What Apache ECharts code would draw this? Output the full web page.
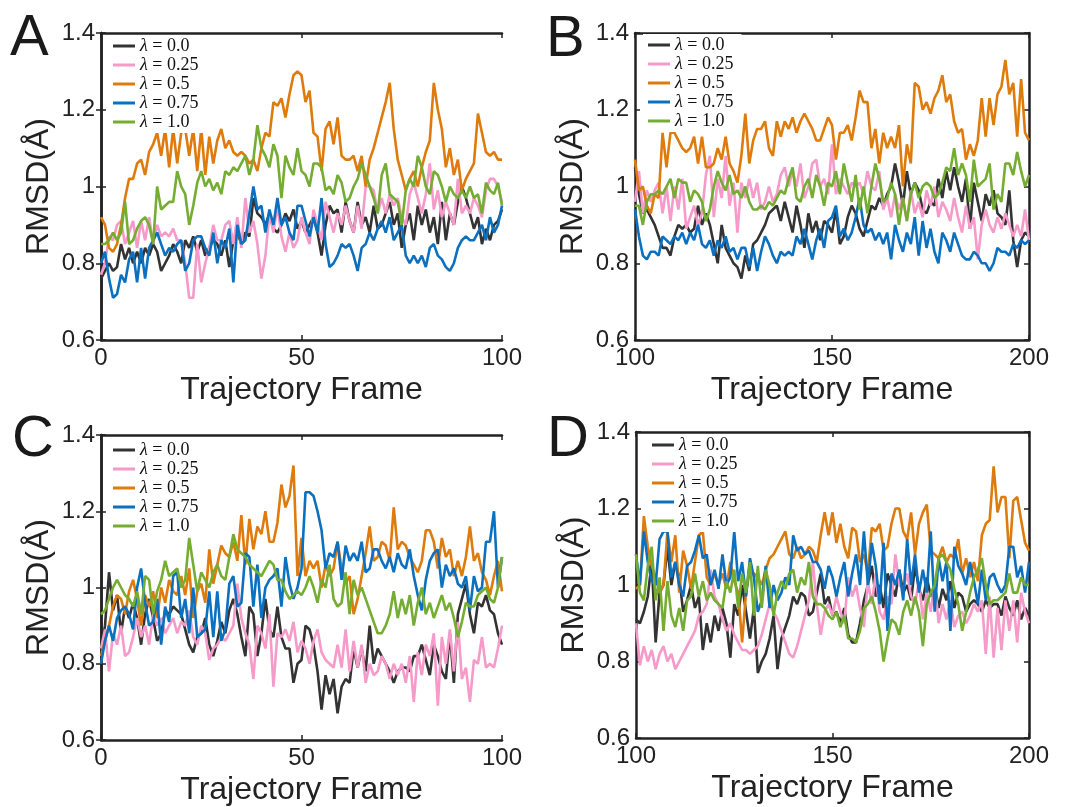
<!DOCTYPE html>
<html>
<head>
<meta charset="utf-8">
<script src="https://cdn.jsdelivr.net/npm/echarts@6/dist/echarts.min.js"></script>
<style>
  html, body { margin: 0; padding: 0; background: #fff; }
  #chart { width: 1071px; height: 807px; }
</style>
</head>
<body>
<div id="chart"></div>
<script>
var names = ['λ = 0.0', 'λ = 0.25', 'λ = 0.5', 'λ = 0.75', 'λ = 1.0'];
var colors = ['#333333', '#f59ac9', '#de7b0c', '#0b70bf', '#74ad31'];
var yTicks = [0.6, 0.8, 1.0, 1.2, 1.4];

// panel A, frames 0-100
var aBlack = [
    .76,.78,.80,.78,.79,.85,.81,.84,.80,.83,
    .80,.84,.82,.85,.83,.78,.80,.82,.85,.83,
    .80,.86,.84,.87,.83,.86,.82,.84,.86,.85,
    .82,.86,.79,.86,.88,.85,.88,.87,.97,.93,
    .92,.90,.93,.89,.88,.90,.93,.91,.94,.89,
    .91,.88,.90,.92,.88,.82,.90,.95,.93,.94,
    .88,.96,.91,.88,.96,.90,.92,.88,.95,.89,
    .90,.93,.96,.90,.93,.84,.90,.93,.86,.95,
    .90,.94,.88,.92,.85,.96,.86,.93,.90,.96,
    1.00,.97,.93,.89,.92,.85,.89,.86,.90,.91,.94
];
var aPink = [
    .77,.80,.87,.86,.90,.91,.85,.88,.91,.84,
    .91,.86,.92,.85,.90,.87,.88,.87,.89,.86,
    .86,.80,.71,.71,.85,.75,.80,.84,.90,.86,
    .86,.90,.91,.85,.92,.84,.97,.88,.91,.85,
    .76,.82,.93,.88,.95,.87,.83,.88,.84,.86,
    .92,.88,.85,.94,.90,.86,.96,.92,.88,.93,
    .90,.95,.91,.88,.95,.89,1.00,1.00,.99,.93,
    .97,.93,.98,.95,.97,.92,.90,.98,1.01,.97,
    .93,.98,1.06,.94,.99,.92,.96,.93,.90,1.02,
    .93,.95,.93,.97,.95,.92,.99,1.02,1.02,1.00,.96
];
var aOrange = [
    .92,.90,.84,.83,.85,.90,.97,1.02,1.02,1.06,
    1.07,1.03,1.09,1.11,1.14,1.08,1.15,1.05,1.15,1.06,
    1.14,1.15,1.08,1.15,1.04,1.15,1.03,1.13,1.06,1.12,
    1.15,1.10,1.12,1.09,1.08,1.09,1.08,1.06,1.07,1.04,
    1.10,1.14,1.13,1.22,1.21,1.23,1.18,1.24,1.29,1.30,
    1.29,1.22,1.25,1.14,1.13,1.04,1.15,1.17,1.11,1.18,
    1.08,1.07,1.07,1.08,1.04,1.08,1.00,1.07,1.10,1.14,
    1.18,1.22,1.27,1.15,1.07,1.03,.99,1.02,1.04,1.00,
    1.05,1.09,1.12,1.27,1.20,1.15,1.05,1.10,1.03,1.07,
    .99,1.02,1.04,1.06,1.19,1.14,1.09,1.08,1.09,1.07,1.07
];
var aBlue = [
    .80,.83,.76,.71,.72,.77,.75,.81,.83,.75,
    .84,.76,.84,.86,.88,.85,.82,.84,.83,.85,
    .86,.78,.80,.86,.87,.87,.84,.82,.88,.80,
    .86,.84,.89,.75,.90,.85,.86,.93,1.00,.94,
    .95,.88,.94,.90,.97,.90,.92,.88,.86,.95,
    .95,.91,.87,.92,.88,.97,.85,.79,.80,.82,
    .85,.84,.85,.82,.78,.84,.85,.88,.86,.89,
    .91,.88,.92,.86,.88,.90,.82,.80,.82,.80,
    .82,.79,.84,.85,.82,.81,.79,.78,.80,.84,
    .86,.87,.86,.86,.88,.90,.86,.92,.88,.90,.95
];
var aGreen = [
    .85,.85,.86,.88,.86,.88,.96,.85,.86,.89,
    .91,.92,.90,.85,1.00,.94,.95,.96,.96,1.04,
    1.00,.98,.90,.95,1.01,1.04,1.00,1.02,.99,1.01,
    .98,1.04,1.03,1.05,1.04,1.06,1.08,1.03,1.07,1.16,
    1.10,1.08,1.05,1.11,1.08,.97,1.08,1.05,1.03,1.10,
    1.04,1.03,1.00,1.06,1.06,1.05,.99,1.00,.98,1.03,
    1.01,.96,.97,1.00,1.02,1.06,1.03,1.00,.97,.93,
    1.03,1.06,.98,.97,.96,.90,.99,1.02,1.00,1.08,
    1.05,1.00,.98,1.04,1.03,1.00,.96,1.00,.98,.97,
    .99,.97,1.00,.97,.98,.93,1.01,.99,.98,1.01,.95
];

// panel B, frames 100-200
var bBlack = [
    1.05,.98,.93,.94,.92,.90,.87,.84,.84,.82,
    .87,.90,.89,.90,.88,.89,.95,.90,.93,.90,
    .85,.80,.90,.84,.82,.80,.79,.76,.82,.78,
    .85,.86,.88,.90,.93,.94,.95,.91,.96,.92,
    .88,.95,.90,.84,.93,.88,.91,.86,.91,.90,
    .88,.94,.85,.87,.92,.95,.93,.89,.87,.91,
    .95,.94,.97,.95,.98,1.00,1.06,1.01,.95,1.04,
    .98,1.01,.99,.94,.93,.96,.95,1.02,.97,1.04,
    .99,1.05,1.00,.96,1.02,.89,1.01,.96,.91,.98,
    .95,.99,.93,.92,.90,.99,.86,.79,.86,.88,.87
];
var bPink = [
    .96,1.04,.93,.99,.96,.99,1.01,.93,1.00,.91,
    1.00,.94,1.02,.89,.92,.95,.90,.93,1.03,1.08,
    .92,1.02,.97,1.08,.95,1.01,.88,1.01,.97,1.02,
    .97,1.01,.94,.96,1.00,.96,.98,1.03,1.05,1.00,
    1.04,1.00,1.06,.97,1.00,1.06,1.07,1.00,1.02,.98,
    1.11,.98,1.02,1.00,.98,1.01,1.00,1.01,.98,1.04,
    1.00,.99,1.04,.94,.97,.92,.98,.94,.97,.91,
    .99,.93,.96,.92,.99,.95,1.00,.92,.96,.94,
    .91,.97,.92,.88,.95,.89,.92,.81,.90,.94,
    .90,.88,.92,.89,.93,.90,.87,.90,.87,.94,.86
];
var bOrange = [
    1.07,.99,1.00,.95,.93,.98,.97,1.14,1.05,1.14,
    1.14,1.12,1.10,1.09,1.10,1.13,1.06,1.13,1.05,1.05,
    1.06,1.10,1.07,1.13,1.06,1.04,1.01,1.08,1.19,1.06,
    1.12,1.15,1.15,1.17,1.10,1.08,1.17,1.13,1.17,1.15,
    1.18,1.14,1.17,1.19,1.17,1.15,1.12,1.12,1.15,1.18,
    1.16,1.07,1.14,1.14,1.16,1.12,1.18,1.25,1.22,1.22,
    1.10,1.15,1.06,1.14,1.10,1.13,1.10,1.16,1.00,1.11,
    1.06,1.27,1.26,1.20,1.22,1.19,1.23,1.25,1.29,1.22,
    1.24,1.17,1.14,1.15,1.07,1.11,1.08,1.12,1.23,1.13,
    1.23,1.16,1.24,1.26,1.33,1.24,1.27,1.13,1.28,1.14,1.12
];
var bBlue = [
    .94,.87,.82,.81,.83,.83,.82,.87,.86,.85,
    .87,.86,.88,.85,.88,.86,.90,.85,.84,.86,
    .82,.86,.84,.87,.83,.84,.81,.84,.84,.79,
    .84,.78,.83,.87,.85,.82,.80,.83,.82,.83,
    .82,.87,.85,.89,.85,.81,.86,.89,.84,.91,
    .92,.95,.87,.89,.86,.88,.92,.97,.90,.88,
    .89,.86,.88,.85,.88,.81,.90,.86,.83,.88,
    .85,.92,.82,.91,.84,.89,.83,.80,.88,.86,
    .83,.88,.85,.82,.81,.81,.83,.82,.80,.80,
    .78,.80,.84,.83,.83,.82,.85,.84,.86,.85,.86
];
var bGreen = [
    .95,.95,.90,.96,.98,.98,.99,.98,1.00,1.02,
    .97,1.02,1.01,1.01,.96,.99,.98,.96,.91,.94,
    1.00,1.04,1.01,.99,1.03,.98,.99,.97,1.00,.96,
    .94,.94,.95,.94,.96,.95,.97,.99,.98,1.02,
    1.05,.97,.96,1.00,1.02,.97,1.03,1.00,.95,1.01,
    1.00,1.04,.98,1.06,1.01,.96,1.03,.94,1.00,.93,
    1.00,1.06,1.02,.96,.97,1.01,.98,.90,.97,.91,
    .98,1.01,.97,1.00,1.01,1.00,.97,.98,1.01,1.05,
    1.04,1.10,1.03,1.06,1.03,.96,1.07,1.00,1.01,1.02,
    1.06,.94,.98,.96,1.06,1.06,1.03,1.09,1.04,1.00,1.03
];

// panel C, frames 0-100
var cBlack = [
    .84,.90,1.04,.94,.98,.88,.95,.92,.96,.92,
    .85,.93,.97,.92,.86,.88,.94,.93,.95,.94,
    .93,.89,.85,.83,.87,.88,.92,.85,.82,.86,
    .91,.88,.94,.97,.93,.87,.82,.95,.93,.82,
    .88,.97,.89,.87,.95,.87,.84,.84,.75,.80,
    .81,.90,.89,.85,.78,.68,.77,.72,.76,.67,
    .74,.76,.75,.84,.79,.84,.78,.90,.80,.84,
    .82,.80,.78,.75,.78,.79,.79,.78,.82,.82,
    .85,.81,.77,.85,.82,.78,.76,.88,.75,.93,
    .97,1.01,.93,.88,.96,.95,.98,.94,.93,.88,.85
];
var cPink = [
    .84,.89,.78,.88,.85,.90,.82,.83,.87,.92,
    .87,.90,.85,.93,.90,.92,.88,.90,.92,.88,
    .91,.90,.94,.87,.85,.90,.88,.81,.84,.85,
    .87,.86,.88,.90,1.01,.92,.88,.85,.76,.90,
    .88,.84,.93,.74,.88,.87,.89,.86,.91,.83,
    .86,.84,.80,.86,.89,.83,.81,.80,.79,.85,
    .79,.89,.78,.86,.79,.85,.75,.80,.77,.78,
    .82,.80,.76,.80,.77,.80,.75,.82,.70,.83,
    .77,.85,.82,.88,.69,.87,.80,.89,.78,.91,
    .76,.79,.70,.81,.80,.87,.79,.80,.79,.84,.90
];
var cOrange = [
    .82,.86,.90,.95,.98,.97,.93,.99,1.02,.97,
    .90,.98,.95,.99,.92,1.00,.96,1.02,.99,.98,
    1.03,.98,1.05,.92,.99,1.01,.96,1.10,1.01,1.06,
    1.11,1.09,1.08,1.12,1.07,1.19,1.06,1.18,1.10,1.16,
    1.14,1.20,1.12,1.12,1.17,1.27,1.21,1.24,1.32,1.03,
    1.13,1.03,1.07,1.05,1.07,1.00,1.06,1.03,1.05,1.12,
    1.05,1.01,1.03,.93,.97,1.03,1.09,1.16,1.07,1.08,
    1.12,1.11,1.07,1.21,1.10,1.12,1.11,1.08,1.06,1.04,
    1.07,1.15,1.15,1.12,1.05,1.13,1.08,1.10,1.03,1.07,
    1.03,1.08,1.16,1.07,1.09,1.04,1.02,.98,1.03,1.07,.99
];
var cBlue = [
    .80,.86,.90,.86,.92,.94,.95,.93,.89,1.00,
    1.05,.96,.90,.91,.97,.85,.95,.91,1.03,1.04,
    .92,.97,.88,1.00,.87,.88,.89,.99,.87,.99,
    .86,.89,1.01,1.03,.95,.96,1.09,1.08,.95,1.06,
    .92,1.00,1.02,1.03,1.05,.95,1.08,1.01,.97,1.00,
    1.05,1.25,1.25,1.24,1.20,1.15,1.05,1.09,1.08,1.12,
    1.02,1.11,1.07,1.09,1.07,1.12,1.04,1.05,1.10,1.10,
    1.07,1.05,1.08,1.04,1.09,1.06,1.05,1.10,1.03,.98,
    .94,1.02,1.07,1.09,1.10,1.00,1.06,1.03,1.05,1.01,
    1.00,1.03,.94,1.03,.99,1.00,1.12,1.12,1.20,1.00,1.08
];
var cGreen = [
    .93,.94,.97,1.00,1.02,1.00,.98,.97,.95,.99,
    .93,1.03,1.02,.93,.99,1.02,1.07,1.03,1.04,1.05,
    1.00,1.02,1.13,1.06,.99,1.04,1.02,1.00,1.04,1.06,
    1.03,1.02,1.08,1.14,1.10,1.09,1.08,1.06,1.05,1.04,
    1.03,1.05,1.07,1.06,1.02,1.02,.99,.97,.98,.99,
    .98,1.00,1.03,1.00,.96,1.02,1.00,1.06,.97,.95,
    .96,1.04,.93,1.02,.98,1.00,.97,.94,.91,.88,
    .88,.90,.93,.99,.92,.97,.93,.98,.90,.96,
    1.00,.93,.96,.92,.95,.98,.94,.96,.92,.87,
    .91,.96,.95,.95,.98,.99,1.00,.97,.96,1.00,1.08
];

// panel D, frames 100-200
var dBlack = [
    .91,.90,.93,.97,1.06,.85,.98,1.00,1.10,1.00,
    1.06,1.02,.93,.96,1.00,.94,.97,.83,.90,.85,
    .92,.88,.94,.90,.81,.95,.92,1.00,.93,.86,
    .94,.77,.80,.82,.86,.92,.78,.86,.89,.92,
    .97,.95,.98,.97,.92,.93,.98,1.03,.95,.97,
    .92,.93,.90,.94,.87,.85,.85,.90,.96,1.00,
    1.05,.97,1.00,.94,1.03,1.00,.97,1.04,.98,1.00,
    .96,1.05,.99,.96,1.02,.97,1.00,.94,.99,.96,
    1.01,.94,.98,.97,.93,.95,.96,.95,.93,.96,
    .94,.95,.95,.92,.97,.94,.92,.96,.91,.94,.92
];
var dPink = [
    .90,.79,.84,.80,.83,.78,.82,.84,.80,.82,
    .78,.80,.82,.84,.86,.88,.92,.93,.95,1.04,
    .97,.95,.91,.88,.90,.87,.85,.83,.83,.82,
    .83,.84,.87,.91,.95,.93,.91,.88,.85,.82,
    .81,.84,.88,.92,.96,1.06,.95,.87,.93,.95,
    .92,.97,.93,.90,1.02,.97,1.00,.94,.89,1.01,
    .95,1.03,.93,.91,.97,.95,1.08,1.00,.99,1.03,
    .97,.95,1.01,.91,.98,.93,1.01,.90,.95,.91,
    .96,.89,.92,.93,.90,.92,.95,.93,.96,.82,
    .97,.81,.94,.83,.96,.88,.96,.85,.98,.93,.90
];
var dOrange = [
    .99,1.00,1.18,1.10,1.05,1.02,.98,1.00,1.14,1.06,
    1.13,.98,1.09,1.05,.99,1.06,1.13,1.14,1.02,1.00,
    1.03,1.00,1.03,.99,1.06,1.01,.98,.85,.98,1.04,
    1.03,1.02,1.00,1.04,1.07,1.08,1.10,1.12,1.14,1.08,
    1.07,1.10,1.07,1.08,1.10,1.09,1.06,1.13,1.19,1.13,
    1.19,1.11,1.16,1.10,1.07,1.15,1.14,1.06,1.08,1.03,
    1.15,1.14,1.16,1.09,1.10,1.16,1.20,1.20,1.14,1.12,
    1.19,1.08,1.16,1.19,1.21,1.09,1.08,1.07,1.10,1.06,
    1.08,1.07,1.12,1.03,1.07,1.02,1.06,1.01,1.13,1.16,
    1.17,1.31,1.19,1.23,1.23,1.07,1.22,1.23,1.17,1.11,1.09
];
var dBlue = [
    1.08,1.00,1.14,1.06,1.01,1.00,1.12,1.14,1.14,1.02,
    1.06,1.00,.97,1.05,1.06,1.09,1.13,1.07,1.08,1.00,
    1.04,.99,1.08,1.00,1.02,1.14,1.01,1.06,.97,1.07,
    1.02,.93,.96,1.05,.94,1.00,.96,.98,1.02,1.00,
    1.13,1.09,1.10,1.08,1.09,1.06,1.06,1.04,.99,1.05,
    1.02,.97,1.02,1.06,.97,1.03,1.08,1.00,1.14,1.00,
    1.11,1.05,.95,1.11,.88,1.03,1.00,1.04,.96,1.12,
    1.00,1.08,.98,1.04,.98,1.14,.93,1.07,1.01,1.06,
    .88,1.10,1.05,1.03,1.00,1.06,1.01,.95,1.04,.96,
    1.02,1.03,1.00,.98,1.00,1.10,1.10,1.02,1.05,.98,1.06
];
var dGreen = [
    1.08,.98,.96,1.05,1.10,.96,1.02,.88,1.01,.92,
    .89,.94,.88,.96,.97,1.03,.97,1.01,.96,.98,
    .96,.95,.94,1.01,.98,1.04,.94,1.03,.98,1.06,
    .92,1.05,.94,1.04,1.00,.92,.98,1.01,.99,1.03,
    1.04,.98,1.02,1.00,1.06,.97,.95,.95,.94,.92,
    .91,.93,.89,.92,.86,.86,.85,.88,.94,.95,
    .97,.93,.88,.80,.86,.91,.90,.87,.93,.96,
    .92,.97,.93,.84,.95,.98,1.00,1.07,1.08,1.06,
    1.04,.99,.95,.88,.93,.98,1.02,1.04,1.07,1.00,
    .95,.96,.96,.97,.98,1.03,.98,.98,1.02,1.00,1.00
];

var panels = [
    {letter: 'A', start: 0,   grid: {left: 101, top: 33,  width: 401, height: 307}, legend: {left: 108, top: 35},  series: [aBlack, aPink, aOrange, aBlue, aGreen]},
    {letter: 'B', start: 100, grid: {left: 635, top: 33,  width: 394, height: 307}, legend: {left: 643, top: 34},  series: [bBlack, bPink, bOrange, bBlue, bGreen]},
    {letter: 'C', start: 0,   grid: {left: 101, top: 435, width: 401, height: 307}, legend: {left: 108, top: 439}, series: [cBlack, cPink, cOrange, cBlue, cGreen]},
    {letter: 'D', start: 100, grid: {left: 636, top: 432, width: 393, height: 306}, legend: {left: 647, top: 434}, series: [dBlack, dPink, dOrange, dBlue, dGreen]}
];
var letterPos = [[10, 39], [546, 40], [12, 440], [547, 440]];

function toPairs(start, vals) {
    return vals.map(function (v, i) { return [start + i, v]; });
}

var font = 'Liberation Sans, Arial, Helvetica, sans-serif';
var axisLine = {show: true, lineStyle: {color: '#222', width: 2.5}};
var axisTick = {show: true, inside: true, length: 5, lineStyle: {color: '#222', width: 1.5}};

var option = {
    animation: false,
    backgroundColor: '#fff',
    grid: [], xAxis: [], yAxis: [], legend: [], series: [], graphic: []
};

panels.forEach(function (p, k) {
    option.grid.push(p.grid);
    var xmin = p.start, xmax = p.start + 100;
    // bottom axis with labels, top axis just for the box + ticks
    option.xAxis.push({
        gridIndex: k, type: 'value', min: xmin, max: xmax, interval: 50,
        axisLine: axisLine, axisTick: axisTick, splitLine: {show: false},
        axisLabel: {margin: 6, fontSize: 24, color: '#222', fontFamily: font},
        name: 'Trajectory Frame', nameLocation: 'middle', nameGap: 34,
        nameTextStyle: {fontSize: 32, color: '#222', fontFamily: font}
    });
    option.xAxis.push({
        gridIndex: k, type: 'value', min: xmin, max: xmax, interval: 50, position: 'top',
        axisLine: axisLine, axisTick: axisTick, splitLine: {show: false}, axisLabel: {show: false}
    });
    option.yAxis.push({
        gridIndex: k, type: 'value', min: yTicks[0], max: yTicks[yTicks.length - 1], interval: 0.2,
        axisLine: axisLine, axisTick: axisTick, splitLine: {show: false},
        axisLabel: {margin: 6, fontSize: 24, color: '#222', fontFamily: font},
        name: 'RMSD(Å)', nameLocation: 'middle', nameGap: 46, nameRotate: 90,
        nameTextStyle: {fontSize: 32, color: '#222', fontFamily: font}
    });
    option.yAxis.push({
        gridIndex: k, type: 'value', min: yTicks[0], max: yTicks[yTicks.length - 1], interval: 0.2, position: 'right',
        axisLine: axisLine, axisTick: axisTick, splitLine: {show: false}, axisLabel: {show: false}
    });

    option.legend.push({
        data: names, orient: 'vertical', left: p.legend.left, top: p.legend.top,
        icon: 'rect', itemWidth: 22, itemHeight: 3, itemGap: 1,
        backgroundColor: '#fff', padding: [2, 8, 2, 5], selectedMode: false,
        formatter: function (name) { return '{i|λ}' + name.slice(1); },
        textStyle: {
            fontFamily: 'Liberation Serif, serif', fontSize: 18, color: '#111', lineHeight: 16,
            rich: {i: {fontStyle: 'italic', fontFamily: 'Liberation Serif, serif', fontSize: 18, color: '#111', lineHeight: 16}}
        }
    });

    p.series.forEach(function (vals, j) {
        option.series.push({
            name: names[j], type: 'line', xAxisIndex: 2 * k, yAxisIndex: 2 * k,
            symbol: 'none', color: colors[j],
            lineStyle: {width: 2.6, color: colors[j]},
            data: toPairs(p.start, vals)
        });
    });

    option.graphic.push({
        type: 'text', left: letterPos[k][0], top: letterPos[k][1] - 29,
        style: {text: p.letter, fontSize: 58, fontFamily: font, fill: '#1a1a1a'}
    });
});

var myChart = echarts.init(document.getElementById('chart'));
myChart.setOption(option);
</script>
</body>
</html>
